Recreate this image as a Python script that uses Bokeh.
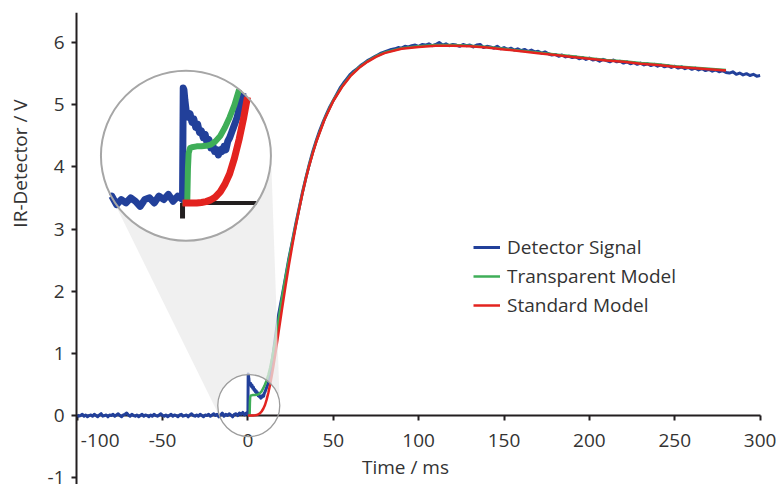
import math
import numpy as np
from bokeh.plotting import figure
from bokeh.models import Range1d, FixedTicker, Legend, LegendItem, Label
from bokeh.core.properties import value
from bokeh.embed import file_html
from bokeh.resources import INLINE

# ---------------- data ----------------
base_t = list(range(-100, 0))
base_v = [0.01, -0.01, 0.00, 0.02, -0.01, 0.01, -0.02, 0.00, 0.01, -0.01,
          0.02, 0.00, -0.02, 0.01, 0.03, -0.01, 0.00, 0.01, -0.02, 0.01,
          0.00, 0.02, -0.01, 0.01, 0.03, 0.00, -0.02, 0.01, 0.02, 0.04,
          0.01, -0.01, 0.02, 0.00, -0.01, 0.01, -0.02, 0.00, 0.02, -0.01,
          0.01, 0.00, -0.02, 0.01, -0.01, 0.02, 0.00, -0.01, 0.01, 0.03,
          0.00, -0.01, 0.01, -0.02, 0.00, 0.02, -0.01, 0.01, 0.00, -0.02,
          0.01, 0.02, -0.01, 0.00, 0.01, -0.02, 0.01, 0.03, 0.00, -0.01,
          0.01, -0.01, 0.02, 0.00, -0.02, 0.01, 0.00, 0.02, -0.01, 0.01,
          0.03, 0.00, 0.02, -0.02, 0.01, 0.04, -0.01, 0.02, 0.00, 0.03,
          0.01, -0.02, 0.02, 0.03, 0.00, 0.04, 0.02, 0.05, 0.01, 0.04]

spike_t = [0.0, 0.15, 0.3, 0.5, 0.8, 1.2, 1.6, 2.0, 2.4, 2.8,
           3.2, 3.6, 4.0, 4.4, 4.8, 5.2, 5.6, 6.0, 6.4, 6.8,
           7.2, 7.6, 8.0, 8.4, 8.8, 9.2, 9.6, 10.0, 10.4, 10.8,
           11.2, 11.6, 12.0, 12.5, 13.0, 13.5, 14.0, 15, 16, 17,
           18, 19]
spike_v = [0.02, 0.67, 0.66, 0.60, 0.53, 0.50, 0.52, 0.47, 0.49, 0.44,
           0.46, 0.41, 0.42, 0.38, 0.40, 0.35, 0.37, 0.32, 0.34, 0.30,
           0.31, 0.28, 0.31, 0.30, 0.33, 0.31, 0.36, 0.38, 0.41, 0.44,
           0.47, 0.50, 0.55, 0.60, 0.66, 0.74, 0.84, 1.04, 1.24, 1.44,
           1.63, 1.78]

rise_t = list(range(20, 302, 2))
rise_v = [1.92, 2.22, 2.53, 2.80, 3.08, 3.34, 3.60, 3.83, 4.05, 4.25,
          4.42, 4.58, 4.72, 4.85, 4.97, 5.07, 5.17, 5.27, 5.35, 5.42,
          5.49, 5.54, 5.58, 5.63, 5.67, 5.71, 5.74, 5.77, 5.80, 5.83,
          5.85, 5.87, 5.89, 5.90, 5.92, 5.91, 5.94, 5.93, 5.95, 5.96,
          5.94, 5.97, 5.96, 5.98, 5.95, 5.97, 6.00, 5.96, 5.98, 5.95,
          5.97, 5.96, 5.94, 5.97, 5.95, 5.96, 5.93, 5.96, 5.97, 5.92,
          5.94, 5.93, 5.91, 5.94, 5.90, 5.92, 5.89, 5.91, 5.88, 5.90,
          5.87, 5.89, 5.86, 5.88, 5.85, 5.86, 5.83, 5.85, 5.82, 5.80,
          5.81, 5.78, 5.80, 5.77, 5.78, 5.76, 5.77, 5.74, 5.76, 5.73,
          5.75, 5.72, 5.73, 5.70, 5.73, 5.71, 5.69, 5.72, 5.69, 5.70,
          5.67, 5.69, 5.66, 5.68, 5.65, 5.67, 5.64, 5.66, 5.63, 5.65,
          5.62, 5.64, 5.61, 5.63, 5.60, 5.62, 5.59, 5.61, 5.58, 5.60,
          5.57, 5.59, 5.56, 5.58, 5.55, 5.57, 5.54, 5.56, 5.53, 5.55,
          5.52, 5.51, 5.53, 5.49, 5.51, 5.48, 5.50, 5.47, 5.49, 5.46,
          5.47]

model_t = [0, 1, 1.15, 1.3, 1.6, 2, 3, 4, 5, 6,
           7, 8, 9, 10, 11, 12, 13, 14, 15, 16,
           18, 20, 22, 24, 26, 28, 30, 32, 34, 36,
           38, 40, 45, 50, 55, 60, 65, 70, 75, 80,
           90, 100, 110, 120, 130, 140, 150, 160, 170, 180,
           190, 200, 210, 220, 230, 240, 250, 260, 270, 280]
transparent_v = [0, 0.0, 0.20, 0.29, 0.32, 0.325, 0.33, 0.33, 0.333, 0.34,
                 0.36, 0.39, 0.44, 0.50, 0.57, 0.66, 0.77, 0.90, 1.05, 1.20,
                 1.55, 1.90, 2.22, 2.52, 2.80, 3.07, 3.33, 3.59, 3.83, 4.04,
                 4.23, 4.41, 4.78, 5.07, 5.29, 5.47, 5.60, 5.70, 5.78, 5.84,
                 5.91, 5.94, 5.96, 5.96, 5.95, 5.93, 5.90, 5.87, 5.84, 5.81,
                 5.78, 5.75, 5.72, 5.70, 5.67, 5.65, 5.62, 5.60, 5.58, 5.56]
standard_v = [0, 0, 0, 0, 0, 0.0, 0.0, 0.003, 0.008, 0.018,
              0.035, 0.065, 0.11, 0.17, 0.26, 0.37, 0.50, 0.65, 0.81, 0.98,
              1.35, 1.72, 2.08, 2.42, 2.74, 3.04, 3.32, 3.58, 3.82, 4.03,
              4.22, 4.40, 4.77, 5.06, 5.28, 5.46, 5.59, 5.69, 5.77, 5.83,
              5.90, 5.93, 5.95, 5.95, 5.94, 5.92, 5.89, 5.86, 5.83, 5.80,
              5.77, 5.74, 5.71, 5.69, 5.66, 5.64, 5.61, 5.59, 5.57, 5.55]

x_ticks = [-100, -50, 0, 50, 100, 150, 200, 250, 300]
y_ticks = [-1, 0, 1, 2, 3, 4, 5, 6]
series_names = ["Detector Signal", "Transparent Model", "Standard Model"]
x_title = "Time / ms"
y_title = "IR-Detector / V"

det_t = base_t + spike_t + rise_t
det_v = base_v + spike_v + rise_v

# ---------------- style / geometry ----------------
BLUE, GREEN, RED = "#22409a", "#3fae58", "#e3231f"
INK, AXIS = "#333333", "#231f20"
FONT, FS = "Open Sans", "19px"

PXMS = 1.7074                 # px per ms
FW, FH = 776, 472
Y_AXIS_AT = -100.4            # where the vertical axis crosses
X0 = Y_AXIS_AT - 76 / PXMS    # frame spans the whole width
X1 = X0 + FW / PXMS
Y0, Y1 = -1.109, 6.484
SX = FW / (X1 - X0)
SY = FH / (Y1 - Y0)

# zoom inset
IC = (-36.3, 4.18)      # inset circle centre (data)
IR = 85.0               # inset radius, px
IT0, IV0, MAG = -38.3, 3.42, 2.76
SC = (0.5, 0.16)        # small circle centre (data)
SR = 31.0               # small circle radius, px


def to_px(t, v):
    return (np.asarray(t, float) - X0) * SX, (np.asarray(v, float) - Y0) * SY


def to_data(x, y):
    return X0 + np.asarray(x, float) / SX, Y0 + np.asarray(y, float) / SY


def clip_circle(t, v, centre, r):
    xs, ys = to_px(t, v)
    cx, cy = to_px([centre[0]], [centre[1]])
    cx, cy = cx[0], cy[0]
    ox, oy = [], []
    prev_in = None
    for i in range(len(xs)):
        x, y = xs[i], ys[i]
        ins = (x - cx) ** 2 + (y - cy) ** 2 <= r * r
        if i > 0 and ins != prev_in:
            px_, py_ = xs[i - 1], ys[i - 1]
            dx, dy = x - px_, y - py_
            fx, fy = px_ - cx, py_ - cy
            a = dx * dx + dy * dy
            b = 2 * (fx * dx + fy * dy)
            c = fx * fx + fy * fy - r * r
            disc = math.sqrt(max(b * b - 4 * a * c, 0.0))
            s = (-b - disc) / (2 * a) if not prev_in else (-b + disc) / (2 * a)
            s = min(max(s, 0.0), 1.0)
            ox.append(px_ + s * dx)
            oy.append(py_ + s * dy)
            if prev_in:
                ox.append(np.nan)
                oy.append(np.nan)
        if ins:
            ox.append(x)
            oy.append(y)
        prev_in = ins
    return to_data(ox, oy)


def inset(t, v):
    ti = IT0 + np.asarray(t, float) * MAG
    vi = IV0 + np.asarray(v, float) * MAG
    return clip_circle(ti, vi, IC, IR)


p = figure(width=776, height=484, x_range=Range1d(X0, X1), y_range=Range1d(Y0, Y1),
           output_backend="svg", toolbar_location=None,
           min_border_left=0, min_border_right=0, min_border_top=12, min_border_bottom=0)
p.outline_line_color = None
p.xgrid.visible = False
p.ygrid.visible = False
p.background_fill_color = "white"

for ax in (p.xaxis[0], p.yaxis[0]):
    ax.axis_line_color = AXIS
    ax.axis_line_width = 2
    ax.major_tick_line_color = AXIS
    ax.major_tick_line_width = 2
    ax.major_tick_out = 5
    ax.major_tick_in = 0
    ax.minor_tick_line_color = None
    ax.major_label_text_font = FONT
    ax.major_label_text_font_size = FS
    ax.major_label_text_color = INK

xa = p.xaxis[0]
xa.ticker = FixedTicker(ticks=x_ticks)
xa.fixed_location = 0
xa.bounds = (Y_AXIS_AT, x_ticks[-1])
x_over = {t: str(t) for t in x_ticks if t < 0}
x_over[x_ticks[0]] = ""
xa.major_label_overrides = x_over
xa.major_label_standoff = 13
xa.level = "underlay"

ya = p.yaxis[0]
ya.ticker = FixedTicker(ticks=y_ticks)
ya.fixed_location = Y_AXIS_AT
ya.major_label_overrides = {t: str(t) for t in y_ticks if t < 0}
ya.major_label_standoff = 7

# axis titles placed where the reference has them (screen px from frame bottom-left)
p.add_layout(Label(x=19, y=321, x_units="screen", y_units="screen", text=y_title,
                   angle=math.pi / 2, text_align="center", text_baseline="middle",
                   text_font=FONT, text_font_size=FS, text_color=INK))
p.add_layout(Label(x=405, y=18, x_units="screen", y_units="screen", text=x_title,
                   text_align="center", text_baseline="middle",
                   text_font=FONT, text_font_size=FS, text_color=INK))

# shifted first x tick label (sits right of the y axis)
p.text(x=[x_ticks[0]], y=[0], text=[str(x_ticks[0])], x_offset=23, y_offset=18,
       text_align="center", text_baseline="top", text_font=value(FONT),
       text_font_size=FS, text_color=INK)

# main curves
r_det = p.line(det_t, det_v, line_color=BLUE, line_width=3, line_join="round")
r_tr = p.line(model_t, transparent_v, line_color=GREEN, line_width=2.5, line_join="round")
r_st = p.line(model_t, standard_v, line_color=RED, line_width=2.5, line_join="round")

# cone between small circle and inset circle
c1x, c1y = to_px([IC[0]], [IC[1]])
c2x, c2y = to_px([SC[0]], [SC[1]])
c1x, c1y, c2x, c2y = c1x[0], c1y[0], c2x[0], c2y[0]
dd = math.hypot(c2x - c1x, c2y - c1y)
th = math.atan2(c2y - c1y, c2x - c1x)
ph = math.acos((IR - SR) / dd)
poly_x, poly_y = [], []
for a in np.linspace(th - ph, th + ph, 40):
    poly_x.append(c1x + IR * math.cos(a)); poly_y.append(c1y + IR * math.sin(a))
for a in np.linspace(th + ph, th + 2 * math.pi - ph, 60):
    poly_x.append(c2x + SR * math.cos(a)); poly_y.append(c2y + SR * math.sin(a))
cone_t, cone_v = to_data(poly_x, poly_y)
p.patch(cone_t, cone_v, fill_color="#ebebeb", fill_alpha=0.75, line_color=None)

# small circle
p.scatter([SC[0]], [SC[1]], marker="circle", size=2 * SR, fill_color=None,
          line_color="#9c9c9c", line_width=1.3)

# inset
p.scatter([IC[0]], [IC[1]], marker="circle", size=2 * IR, fill_color="white",
          line_color=None)
ax_t, ax_v = inset([0, 40], [0, 0])
p.line(ax_t, ax_v, line_color=AXIS, line_width=4)
tk_t, tk_v = inset([0, 0], [0, -0.09])
p.line(tk_t, tk_v, line_color=AXIS, line_width=5)
bt, bv = inset(det_t, det_v)
p.line(bt, bv, line_color=BLUE, line_width=7, line_join="round")
gt, gv = inset(model_t, transparent_v)
p.line(gt, gv, line_color=GREEN, line_width=6, line_join="round")
rt, rv = inset(model_t, standard_v)
p.line(rt, rv, line_color=RED, line_width=7, line_join="round")
p.scatter([IC[0]], [IC[1]], marker="circle", size=2 * IR, fill_color=None,
          line_color="#a6a6a6", line_width=2)

legend = Legend(items=[LegendItem(label=series_names[0], renderers=[r_det]),
                       LegendItem(label=series_names[1], renderers=[r_tr]),
                       LegendItem(label=series_names[2], renderers=[r_st])],
                location=(473, 166), border_line_color=None, background_fill_alpha=0,
                padding=0, margin=0, spacing=3, glyph_height=20, glyph_width=27,
                label_height=20, label_standoff=7, label_text_font=FONT,
                label_text_font_size=FS, label_text_color=INK)
p.add_layout(legend)

open("out.html", "w").write(file_html(p, INLINE))
